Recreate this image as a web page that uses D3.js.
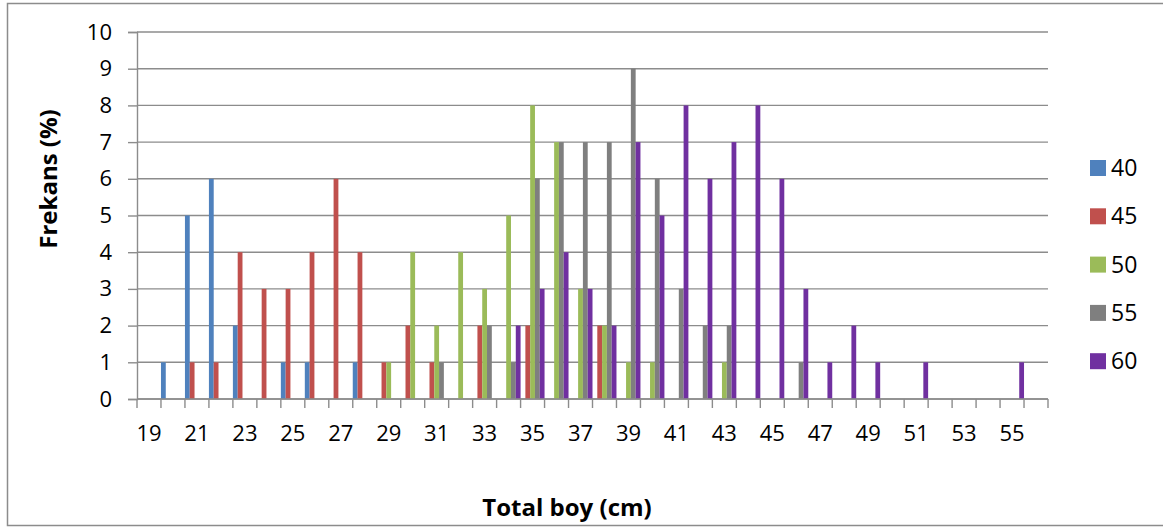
<!DOCTYPE html>
<html>
<head>
<meta charset="utf-8">
<script src="https://cdn.jsdelivr.net/npm/d3@7"></script>
<style>
  html, body { margin: 0; padding: 0; background: #fff; }
  svg { display: block; font-family: "Open Sans", sans-serif; }
</style>
</head>
<body>
<div id="chart"></div>
<script>
// ==================== DATA ====================
const categories = [
  "19", "20", "21", "22", "23", "24", "25", "26", "27", "28",
  "29", "30", "31", "32", "33", "34", "35", "36", "37", "38",
  "39", "40", "41", "42", "43", "44", "45", "46", "47", "48",
  "49", "50", "51", "52", "53", "54", "55", "56",
];
const xTickLabels = [
  "19", "21", "23", "25", "27", "29", "31", "33", "35", "37",
  "39", "41", "43", "45", "47", "49", "51", "53", "55",
];
const yTicks = [0, 1, 2, 3, 4, 5, 6, 7, 8, 9, 10];

const seriesNames = ["40", "45", "50", "55", "60"];
const seriesColors = ["#4f81bd", "#c0504d", "#9bbb59", "#7f7f7f", "#7030a0"];

const s40 = [0, 1, 5, 6, 2, 0, 1, 1, 0, 1, 0, 0, 0, 0, 0, 0, 0, 0, 0, 0, 0, 0, 0, 0, 0, 0, 0, 0, 0, 0, 0, 0, 0, 0, 0, 0, 0, 0];
const s45 = [0, 0, 1, 1, 4, 3, 3, 4, 6, 4, 1, 2, 1, 0, 2, 0, 2, 0, 0, 2, 0, 0, 0, 0, 0, 0, 0, 0, 0, 0, 0, 0, 0, 0, 0, 0, 0, 0];
const s50 = [0, 0, 0, 0, 0, 0, 0, 0, 0, 0, 1, 4, 2, 4, 3, 5, 8, 7, 3, 2, 1, 1, 0, 0, 1, 0, 0, 0, 0, 0, 0, 0, 0, 0, 0, 0, 0, 0];
const s55 = [0, 0, 0, 0, 0, 0, 0, 0, 0, 0, 0, 0, 1, 0, 2, 1, 6, 7, 7, 7, 9, 6, 3, 2, 2, 0, 0, 1, 0, 0, 0, 0, 0, 0, 0, 0, 0, 0];
const s60 = [0, 0, 0, 0, 0, 0, 0, 0, 0, 0, 0, 0, 0, 0, 0, 2, 3, 4, 3, 2, 7, 5, 8, 6, 7, 8, 6, 3, 1, 2, 1, 0, 1, 0, 0, 0, 1, 0];
const seriesValues = [s40, s45, s50, s55, s60];

// ==================== LAYOUT ====================
const width = 1163,
  height = 529;
const plot = { left: 137, right: 1048, top: 32, bottom: 399 };
const gridColor = "#8c8c8c";

const svg = d3
  .select("#chart")
  .append("svg")
  .attr("width", width)
  .attr("height", height);

// outer chart border
svg
  .append("rect")
  .attr("x", 7.5)
  .attr("y", 3.5)
  .attr("width", 1162)
  .attr("height", 522)
  .attr("fill", "none")
  .attr("stroke", gridColor)
  .attr("stroke-width", 1.5);

// ==================== SCALES ====================
const x0 = d3
  .scaleBand()
  .domain(categories)
  .range([plot.left, plot.right])
  .padding(0);
const x1 = d3
  .scaleBand()
  .domain(seriesNames)
  .range([0, x0.bandwidth()])
  .padding(0);
const y = d3
  .scaleLinear()
  .domain([0, 10])
  .range([plot.bottom, plot.top]);

// ==================== GRID ====================
svg
  .append("g")
  .selectAll("line")
  .data(yTicks)
  .enter()
  .append("line")
  .attr("x1", plot.left)
  .attr("x2", plot.right)
  .attr("y1", (d) => y(d))
  .attr("y2", (d) => y(d))
  .attr("stroke", gridColor)
  .attr("stroke-width", 1.4);

// ==================== BARS ====================
const rows = categories.map((c, i) => ({
  cat: c,
  values: seriesNames.map((s, k) => ({ key: s, value: seriesValues[k][i] })),
}));

svg
  .append("g")
  .selectAll("g")
  .data(rows)
  .enter()
  .append("g")
  .attr("transform", (d) => `translate(${x0(d.cat)},0)`)
  .selectAll("rect")
  .data((d) => d.values.filter((v) => v.value > 0))
  .enter()
  .append("rect")
  .attr("x", (d) => x1(d.key))
  .attr("y", (d) => y(d.value))
  .attr("width", x1.bandwidth())
  .attr("height", (d) => y(0) - y(d.value))
  .attr("fill", (d) => seriesColors[seriesNames.indexOf(d.key)]);

// ==================== AXES ====================
const yAxis = svg
  .append("g")
  .attr("transform", `translate(${plot.left},0)`)
  .call(d3.axisLeft(y).tickValues(yTicks).tickSize(9).tickPadding(16));

const xAxis = svg
  .append("g")
  .attr("transform", `translate(0,${plot.bottom})`)
  .call(
    d3.axisBottom(x0).tickValues(xTickLabels).tickSize(0).tickPadding(26)
  );

// tick marks between categories
svg
  .append("g")
  .selectAll("line")
  .data(categories.concat(["end"]))
  .enter()
  .append("line")
  .attr("x1", (d) => (d === "end" ? plot.right : x0(d)))
  .attr("x2", (d) => (d === "end" ? plot.right : x0(d)))
  .attr("y1", plot.bottom)
  .attr("y2", plot.bottom + 9)
  .attr("stroke", gridColor)
  .attr("stroke-width", 1.4);

[yAxis, xAxis].forEach((g) => {
  g.select(".domain").attr("stroke", gridColor).attr("stroke-width", 1.4);
  g.selectAll(".tick line").attr("stroke", gridColor).attr("stroke-width", 1.4);
  g.selectAll(".tick text")
    .attr("fill", "#000")
    .style("font-size", "22px")
    .style("font-family", '"Open Sans", sans-serif');
});
xAxis.select(".domain").attr("d", `M${plot.left},0H${plot.right}`);

// axis titles
svg
  .append("text")
  .attr("x", 567)
  .attr("y", 516)
  .attr("text-anchor", "middle")
  .style("font-size", "24px")
  .style("font-weight", "bold")
  .text("Total boy (cm)");

svg
  .append("text")
  .attr("transform", "translate(57,179) rotate(-90)")
  .attr("text-anchor", "middle")
  .style("font-size", "24px")
  .style("font-weight", "bold")
  .text("Frekans (%)");

// ==================== LEGEND ====================
const legend = svg
  .append("g")
  .selectAll("g")
  .data(seriesNames)
  .enter()
  .append("g")
  .attr("transform", (d, i) => `translate(1090,${168 + i * 48.3})`);

legend
  .append("rect")
  .attr("x", 0)
  .attr("y", -8)
  .attr("width", 16)
  .attr("height", 16)
  .attr("fill", (d, i) => seriesColors[i]);

legend
  .append("text")
  .attr("x", 21)
  .attr("y", 0)
  .attr("dy", "0.35em")
  .style("font-size", "23px")
  .text((d) => d);
</script>
</body>
</html>
